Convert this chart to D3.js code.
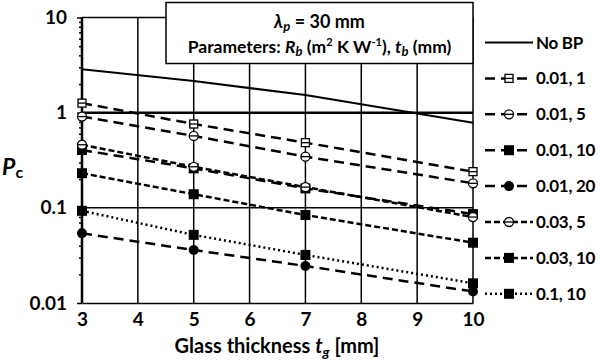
<!DOCTYPE html>
<html lang="en">
<head>
<meta charset="UTF-8">
<title>Pc vs glass thickness</title>
<script src="https://d3js.org/d3.v7.min.js"></script>
<style>
  body { margin: 0; background: #fff; }
  svg { display: block; font-family: Lato, "Open Sans", sans-serif; font-weight: bold; }
</style>
</head>
<body>
<svg id="chart" width="600" height="361"></svg>
<script>
// values (log scale)
const glassThickness = [3, 5, 7, 10];
const noBP       = [2.86, 2.15, 1.53, 0.785];
const rb001_tb1  = [1.26, 0.76, 0.484, 0.24];
const rb001_tb5  = [0.91, 0.57, 0.345, 0.181];
const rb001_tb10 = [0.405, 0.26, 0.16, 0.086];
const rb001_tb20 = [0.054, 0.036, 0.0245, 0.0132];
const rb003_tb5  = [0.46, 0.27, 0.165, 0.08];
const rb003_tb10 = [0.231, 0.139, 0.084, 0.043];
const rb01_tb10  = [0.093, 0.052, 0.032, 0.0161];
const seriesLabels = ["No BP", "0.01, 1", "0.01, 5", "0.01, 10", "0.01, 20", "0.03, 5", "0.03, 10", "0.1, 10"];
const xTicks = [3, 4, 5, 6, 7, 8, 9, 10];
const yTicks = [0.01, 0.1, 1, 10];

// look of each series
const styles = [
  { dash: null,   marker: null,         width: 2 },
  { dash: "10,6", marker: "squareLine", width: 2.5 },
  { dash: "10,6", marker: "circleLine", width: 2.5 },
  { dash: "10,6", marker: "square",     width: 2.5 },
  { dash: "10,6", marker: "circle",     width: 2.5 },
  { dash: "6,3",  marker: "circleLine", width: 2.5 },
  { dash: "6,3",  marker: "square",     width: 2.5 },
  { dash: "2,3",  marker: "square",     width: 2.5 }
];
const values = [noBP, rb001_tb1, rb001_tb5, rb001_tb10, rb001_tb20, rb003_tb5, rb003_tb10, rb01_tb10];
const series = seriesLabels.map((label, i) => ({
  label: label,
  style: styles[i],
  points: glassThickness.map((t, j) => ({ t: t, p: values[i][j] }))
}));

const svg = d3.select("#chart");
const x = d3.scaleLinear().domain([3, 10]).range([82, 473]);
const y = d3.scaleLog().domain([0.01, 10]).range([303, 17.5]);

// grid
const grid = svg.append("g").attr("stroke", "#000");
grid.selectAll(".vg").data(xTicks).enter().append("line")
  .attr("x1", d => x(d)).attr("x2", d => x(d))
  .attr("y1", y(10)).attr("y2", y(0.01))
  .attr("stroke-width", 1.5);
grid.selectAll(".hg").data([0.1, 1, 10]).enter().append("line")
  .attr("x1", x(3)).attr("x2", x(10))
  .attr("y1", d => y(d)).attr("y2", d => y(d))
  .attr("stroke-width", d => d === 1 ? 2.5 : 1.5);

// x axis
const xAxis = svg.append("g")
  .attr("transform", `translate(0,${y(0.01)})`)
  .call(d3.axisBottom(x).tickValues(xTicks).tickSize(0).tickPadding(10).tickFormat(d3.format("d")));
xAxis.select(".domain").attr("stroke", "#000").attr("stroke-width", 1.5);
xAxis.selectAll("text").attr("font-size", 19).attr("font-family", "Lato").attr("font-weight", "bold").attr("fill", "#000");

// y axis: minor ticks then majors with labels
const minor = [];
for (let e = -2; e < 1; e++) for (let k = 2; k <= 9; k++) minor.push(k * Math.pow(10, e));
svg.append("g")
  .attr("transform", `translate(${x(3)},0)`)
  .call(d3.axisLeft(y).tickValues(minor).tickSize(3).tickFormat(""))
  .call(g => g.select(".domain").remove())
  .selectAll("line").attr("stroke-width", 1.5);
const yAxis = svg.append("g")
  .attr("transform", `translate(${x(3)},0)`)
  .call(d3.axisLeft(y).tickValues(yTicks).tickSize(5).tickPadding(10).tickFormat(d => String(d)));
yAxis.select(".domain").attr("stroke", "#000").attr("stroke-width", 2.5).attr("d", `M0,${y(0.01)}V${y(10)}`);
yAxis.selectAll("line").attr("stroke-width", 1.5);
yAxis.selectAll("text").attr("font-size", 19).attr("font-family", "Lato").attr("font-weight", "bold").attr("fill", "#000");

// markers
function drawMarker(g, type, cx, cy) {
  if (!type) return;
  const s = 8;
  if (type === "square") {
    g.append("rect").attr("x", cx - s / 2 - 1).attr("y", cy - s / 2 - 1).attr("width", s + 2).attr("height", s + 2).attr("fill", "#000");
  } else if (type === "circle") {
    g.append("circle").attr("cx", cx).attr("cy", cy).attr("r", 5).attr("fill", "#000");
  } else if (type === "squareLine") {
    g.append("rect").attr("x", cx - s / 2).attr("y", cy - s / 2).attr("width", s).attr("height", s)
      .attr("fill", "#fff").attr("stroke", "#000").attr("stroke-width", 1.3);
    g.append("line").attr("x1", cx - s / 2).attr("x2", cx + s / 2).attr("y1", cy).attr("y2", cy).attr("stroke", "#000").attr("stroke-width", 1.3);
  } else if (type === "circleLine") {
    g.append("circle").attr("cx", cx).attr("cy", cy).attr("r", 4.5)
      .attr("fill", "#fff").attr("stroke", "#000").attr("stroke-width", 1.3);
    g.append("line").attr("x1", cx - 4.5).attr("x2", cx + 4.5).attr("y1", cy).attr("y2", cy).attr("stroke", "#000").attr("stroke-width", 1.3);
  }
}

const line = d3.line().x(d => x(d.t)).y(d => y(d.p));
series.forEach(s => {
  const g = svg.append("g");
  g.append("path").datum(s.points).attr("d", line)
    .attr("fill", "none").attr("stroke", "#000")
    .attr("stroke-width", s.style.width)
    .attr("stroke-dasharray", s.style.dash);
  s.points.forEach(p => drawMarker(g, s.style.marker, x(p.t), y(p.p)));
});

// parameter box
const box = svg.append("g");
box.append("rect").attr("x", 166).attr("y", 2.5).attr("width", 307).attr("height", 61)
  .attr("fill", "#fff").attr("stroke", "#000").attr("stroke-width", 1.5);
const t1 = box.append("text").attr("x", 319.5).attr("y", 28).attr("text-anchor", "middle").attr("font-size", 18);
t1.append("tspan").attr("font-style", "italic").text("λ");
t1.append("tspan").attr("font-style", "italic").attr("font-size", 13).attr("dy", 3).text("p");
t1.append("tspan").attr("dy", -3).text(" = 30 mm");
const t2 = box.append("text").attr("x", 319.5).attr("y", 53).attr("text-anchor", "middle").attr("font-size", 17.5);
t2.append("tspan").text("Parameters: ");
t2.append("tspan").attr("font-style", "italic").text("R");
t2.append("tspan").attr("font-style", "italic").attr("font-size", 13).attr("dy", 3).text("b");
t2.append("tspan").attr("dy", -3).text(" (m");
t2.append("tspan").attr("font-size", 11).attr("dy", -7).text("2");
t2.append("tspan").attr("dy", 7).text(" K W");
t2.append("tspan").attr("font-size", 11).attr("dy", -7).text("-1");
t2.append("tspan").attr("dy", 7).text("), ");
t2.append("tspan").attr("font-style", "italic").text("t");
t2.append("tspan").attr("font-style", "italic").attr("font-size", 13).attr("dy", 3).text("b");
t2.append("tspan").attr("dy", -3).text(" (mm)");

// legend
const legend = svg.append("g");
series.forEach((s, i) => {
  const cy = 42.5 + i * 35.9;
  const g = legend.append("g");
  g.append("line").attr("x1", 485).attr("x2", 533).attr("y1", cy).attr("y2", cy)
    .attr("stroke", "#000").attr("stroke-width", s.style.width)
    .attr("stroke-dasharray", s.style.dash);
  drawMarker(g, s.style.marker, 509, cy);
  g.append("text").attr("x", 536).attr("y", cy + 6).attr("font-size", 17)
    .attr("letter-spacing", -0.3).text(s.label);
});

// axis titles
const xt = svg.append("text").attr("x", 277).attr("y", 353).attr("text-anchor", "middle").attr("font-size", 20);
xt.append("tspan").text("Glass thickness ");
xt.append("tspan").attr("font-style", "italic").text("t");
xt.append("tspan").attr("font-style", "italic").attr("font-size", 14).attr("dy", 4).text("g");
xt.append("tspan").attr("dy", -4).text(" [mm]");
const yt = svg.append("text").attr("x", 2).attr("y", 175).attr("font-size", 23);
yt.append("tspan").attr("font-style", "italic").text("P");
yt.append("tspan").attr("font-size", 16).attr("dy", 3).text("c");
</script>
</body>
</html>
